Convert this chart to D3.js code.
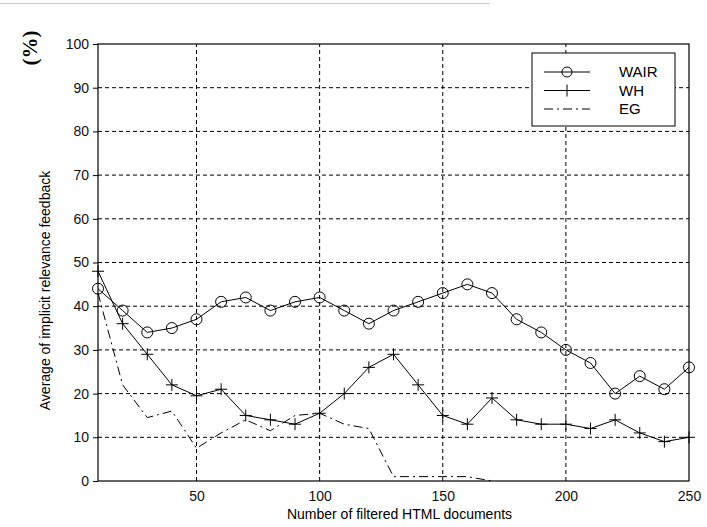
<!DOCTYPE html>
<html>
<head>
<meta charset="utf-8">
<script src="https://cdn.jsdelivr.net/npm/d3@7"></script>
<style>
  body { margin: 0; background: #fff; }
  text { font-family: "Liberation Sans", Arial, sans-serif; }
</style>
</head>
<body>
<div id="viz"></div>
<script>
const width = 707;
const height = 527;
const margin = {top: 44, right: 18, bottom: 46, left: 98};

const docs = [10, 20, 30, 40, 50, 60, 70, 80, 90, 100, 110, 120, 130, 140, 150, 160, 170, 180, 190, 200, 210, 220, 230, 240, 250];
const wair = [44, 39, 34, 35, 37, 41, 42, 39, 41, 42, 39, 36, 39, 41, 43, 45, 43, 37, 34, 30, 27, 20, 24, 21, 26];
const wh = [48, 36, 29, 22, 19.5, 21, 15, 14, 13, 15.5, 20, 26, 29, 22, 15, 13, 19, 14, 13, 13, 12, 14, 11, 9, 10];
const egDocs = [10, 20, 30, 40, 50, 60, 70, 80, 90, 100, 110, 120, 130, 140, 150, 160, 170];
const eg = [43, 22, 14.5, 16, 7.5, 11, 14, 11.5, 15, 15.5, 13, 12, 1, 1, 1, 1, 0];
const xTicks = [50, 100, 150, 200, 250];
const yTicks = [0, 10, 20, 30, 40, 50, 60, 70, 80, 90, 100];

const x = d3.scaleLinear().domain([10, 250]).range([margin.left, width - margin.right]);
const y = d3.scaleLinear().domain([0, 100]).range([height - margin.bottom, margin.top]);

const svg = d3.select('#viz').append('svg')
    .attr('width', width)
    .attr('height', height);

// faint scan line at top
svg.append('line')
    .attr('x1', 0).attr('x2', 490).attr('y1', 3.5).attr('y2', 3.5)
    .attr('stroke', '#ccc');

// grid
const grid = svg.append('g').attr('stroke', '#000').attr('stroke-dasharray', '4,3').attr('stroke-width', 1);
grid.selectAll('.gx')
    .data(xTicks.filter(d => d < 250))
    .join('line')
        .attr('x1', d => x(d)).attr('x2', d => x(d))
        .attr('y1', y(0)).attr('y2', y(100));
grid.selectAll('.gy')
    .data(yTicks.filter(d => d > 0 && d < 100))
    .join('line')
        .attr('x1', x(10)).attr('x2', x(250))
        .attr('y1', d => y(d)).attr('y2', d => y(d));

// frame
svg.append('rect')
    .attr('x', x(10)).attr('y', y(100))
    .attr('width', x(250) - x(10)).attr('height', y(0) - y(100))
    .attr('fill', 'none').attr('stroke', '#000').attr('stroke-width', 1.2);

// axes
const xAxis = svg.append('g')
    .attr('transform', `translate(0,${y(0)})`)
    .call(d3.axisBottom(x).tickValues(xTicks).tickSize(0).tickPadding(10));
xAxis.select('.domain').remove();
const yAxis = svg.append('g')
    .attr('transform', `translate(${x(10)},0)`)
    .call(d3.axisLeft(y).tickValues(yTicks).tickSize(5).tickPadding(4));
yAxis.select('.domain').remove();
svg.selectAll('.tick text').style('font-size', '14px').attr('fill', '#111');

svg.append('text')
    .attr('x', (x(10) + x(250)) / 2 + 6)
    .attr('y', 519)
    .attr('text-anchor', 'middle')
    .style('font-size', '14px')
    .text('Number of filtered HTML documents');

svg.append('text')
    .attr('transform', `translate(50,${(y(0) + y(100)) / 2 + 28}) rotate(-90)`)
    .attr('text-anchor', 'middle')
    .style('font-size', '14px')
    .text('Average of implicit relevance feedback');

svg.append('text')
    .attr('transform', 'translate(37,48) rotate(-90)')
    .attr('text-anchor', 'middle')
    .style('font-family', '"Liberation Serif", "Times New Roman", serif')
    .style('font-weight', 'bold')
    .style('font-size', '21px')
    .text('(%)');

// lines
const line = d3.line().x(d => x(d[0])).y(d => y(d[1]));
const wairPts = docs.map((d, i) => [d, wair[i]]);
const whPts = docs.map((d, i) => [d, wh[i]]);
const egPts = egDocs.map((d, i) => [d, eg[i]]);

svg.append('path').attr('d', line(egPts))
    .attr('fill', 'none').attr('stroke', '#000').attr('stroke-width', 1)
    .attr('stroke-dasharray', '9,4,2,4');
svg.append('path').attr('d', line(whPts))
    .attr('fill', 'none').attr('stroke', '#000').attr('stroke-width', 1);
svg.append('path').attr('d', line(wairPts))
    .attr('fill', 'none').attr('stroke', '#000').attr('stroke-width', 1);

svg.append('g').selectAll('circle')
    .data(wairPts)
    .join('circle')
        .attr('cx', d => x(d[0])).attr('cy', d => y(d[1]))
        .attr('r', 5.5)
        .attr('fill', 'none').attr('stroke', '#000').attr('stroke-width', 1);

const plus = svg.append('g').attr('stroke', '#000').attr('stroke-width', 1);
plus.selectAll('.ph').data(whPts).join('line')
    .attr('x1', d => x(d[0]) - 6).attr('x2', d => x(d[0]) + 6)
    .attr('y1', d => y(d[1])).attr('y2', d => y(d[1]));
plus.selectAll('.pv').data(whPts).join('line')
    .attr('x1', d => x(d[0])).attr('x2', d => x(d[0]))
    .attr('y1', d => y(d[1]) - 6).attr('y2', d => y(d[1]) + 6);

// legend
const legend = svg.append('g').attr('transform', 'translate(532,53)');
legend.append('rect')
    .attr('width', 143).attr('height', 73)
    .attr('fill', '#fff').attr('stroke', '#000').attr('stroke-width', 1);
const names = ['WAIR', 'WH', 'EG'];
const rows = legend.selectAll('.row').data(names).join('g')
    .attr('transform', (d, i) => `translate(0,${19 + i * 18.5})`);
rows.append('line')
    .attr('x1', 12).attr('x2', 58)
    .attr('stroke', '#000')
    .attr('stroke-dasharray', d => d === 'EG' ? '9,4,2,4' : null);
rows.filter(d => d === 'WAIR').append('circle')
    .attr('cx', 35).attr('r', 5).attr('fill', 'none').attr('stroke', '#000');
rows.filter(d => d === 'WH').append('line')
    .attr('x1', 35).attr('x2', 35).attr('y1', -6).attr('y2', 6).attr('stroke', '#000');
rows.append('text')
    .attr('x', 87).attr('dy', '0.35em')
    .style('font-size', '15px')
    .text(d => d);
</script>
</body>
</html>
